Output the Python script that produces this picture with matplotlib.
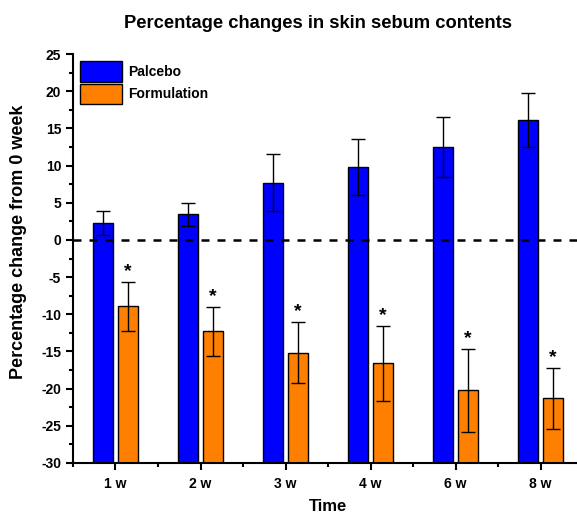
import numpy as np
import matplotlib
matplotlib.use('Agg')
from matplotlib import pyplot as plt
from matplotlib.ticker import MultipleLocator, FixedLocator

# data
weeks = ['1 w', '2 w', '3 w', '4 w', '6 w', '8 w']
placebo = [2.3, 3.45, 7.7, 9.8, 12.5, 16.1]
placebo_err = [1.65, 1.55, 3.8, 3.75, 4.0, 3.6]
formulation = [-8.95, -12.3, -15.15, -16.6, -20.25, -21.3]
formulation_err = [3.25, 3.3, 4.1, 5.0, 5.6, 4.1]

plt.rcParams['font.family'] = ['Liberation Sans', 'DejaVu Sans']
plt.rcParams['font.weight'] = 'bold'
plt.rcParams['axes.unicode_minus'] = False

fig = plt.figure(figsize=(5.77, 5.15), dpi=100)
ax = fig.add_axes([0.1265, 0.101, 0.884, 0.794])

ymin, ymax = -30, 25
x = np.arange(1, len(weeks) + 1)
w = 0.23
off = 0.145

# bars start from the bottom of the axis (Origin style)
ax.bar(x - off, np.array(placebo) - ymin, w, bottom=ymin, color='#0000FF',
       edgecolor='black', linewidth=1, label='Palcebo', zorder=2)
ax.bar(x + off, np.array(formulation) - ymin, w, bottom=ymin, color='#FF8000',
       edgecolor='black', linewidth=1, label='Formulation', zorder=2)
ax.errorbar(x - off, placebo, yerr=placebo_err, fmt='none', ecolor='black',
            elinewidth=1, capsize=5, capthick=1, zorder=3)
ax.errorbar(x + off, formulation, yerr=formulation_err, fmt='none', ecolor='black',
            elinewidth=1, capsize=5, capthick=1, zorder=3)

# significance stars
for xi, v, e in zip(x + off, formulation, formulation_err):
    ax.text(xi, v + e + 0.3, '*', ha='center', va='bottom', fontsize=14,
            fontweight='bold')

ax.axhline(0, color='black', linestyle=(0, (3.2, 3.2)), linewidth=1.8, zorder=4)

ax.set_xlim(0.5, 6.5)
ax.set_ylim(ymin, ymax)
ax.set_xticks(x)
ax.set_xticklabels(weeks)
ax.xaxis.set_minor_locator(FixedLocator(np.arange(0.5, 7, 1)))
ax.yaxis.set_major_locator(MultipleLocator(5))
ax.yaxis.set_minor_locator(MultipleLocator(2.5))

for s in ['top', 'right']:
    ax.spines[s].set_visible(False)
for s in ['left', 'bottom']:
    ax.spines[s].set_linewidth(1.5)

ax.tick_params(axis='both', which='major', direction='out', length=5, width=1.5,
               labelsize=10)
ax.tick_params(axis='x', which='major', pad=5)
ax.tick_params(axis='both', which='minor', direction='out', length=3, width=1.5)
for lab in ax.get_xticklabels() + ax.get_yticklabels():
    lab.set_fontweight('bold')

ax.set_xlabel('Time', fontsize=12, fontweight='bold', labelpad=6)
ax.set_ylabel('Percentage change from 0 week', fontsize=13, fontweight='bold')
ax.yaxis.set_label_coords(-0.09, 0.54)
ax.set_title('Percentage changes in skin sebum contents', fontsize=13.2,
             fontweight='bold', pad=19, x=0.48)

leg = ax.legend(loc='upper left', frameon=False, fontsize=10,
                handlelength=3.0, handleheight=1.9, borderaxespad=0.1,
                labelspacing=0.15, handletextpad=0.5)
for t in leg.get_texts():
    t.set_fontweight('bold')

fig.savefig('out.png', dpi=100)
